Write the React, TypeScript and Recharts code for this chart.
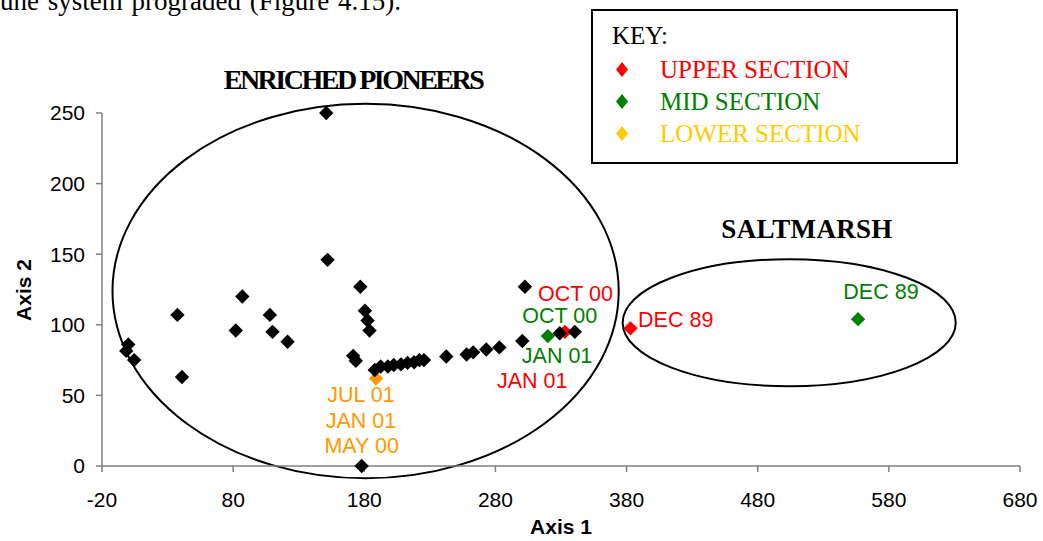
import React from 'react';
import {
  ScatterChart,
  Scatter,
  XAxis,
  YAxis,
  ReferenceArea
} from 'recharts';

// sample scores on the two ordination axes
const otherSamples = [
  { x: 151, y: 250 }, { x: 152, y: 146 }, { x: 177, y: 127 }, { x: 180.5, y: 110 },
  { x: 182.5, y: 103 }, { x: 184, y: 96 }, { x: 87, y: 120 }, { x: 37.5, y: 107 },
  { x: 108, y: 107 }, { x: 82, y: 96 }, { x: 110, y: 95 }, { x: 121.5, y: 88 },
  { x: 0, y: 86 }, { x: -1.5, y: 81.5 }, { x: 4.5, y: 75 }, { x: 41, y: 63 },
  { x: 171.5, y: 78 }, { x: 173.5, y: 74.5 }, { x: 178, y: 0 },
  { x: 188, y: 68 }, { x: 192.5, y: 70.5 }, { x: 198, y: 70.5 }, { x: 202.5, y: 71.5 },
  { x: 208, y: 72 }, { x: 213, y: 73 }, { x: 218, y: 73.5 }, { x: 222, y: 75 },
  { x: 225.5, y: 75 }, { x: 242.5, y: 77.5 }, { x: 258, y: 79 }, { x: 263, y: 80.5 },
  { x: 273, y: 82.5 }, { x: 283, y: 84 }, { x: 300.5, y: 88.5 }, { x: 302.5, y: 127 },
  { x: 329, y: 94 }, { x: 340.5, y: 95 }
];
const upperSection = [{ x: 333, y: 95 }, { x: 383, y: 97.5 }];
const midSection = [{ x: 320, y: 92 }, { x: 556.5, y: 104 }];
const lowerSection = [{ x: 189, y: 62 }];

const dateLabels = [
  { x: 177.5, y: 50, text: 'JUL 01', color: '#ff9900' },
  { x: 177.5, y: 32, text: 'JAN 01', color: '#ff9900' },
  { x: 178, y: 14, text: 'MAY 00', color: '#ff9900' },
  { x: 341, y: 121.5, text: 'OCT 00', color: '#ff0000' },
  { x: 329, y: 106.5, text: 'OCT 00', color: '#008000' },
  { x: 327, y: 78, text: 'JAN 01', color: '#008000' },
  { x: 308, y: 60.5, text: 'JAN 01', color: '#ff0000' },
  { x: 417.5, y: 103.5, text: 'DEC 89', color: '#ff0000' },
  { x: 574, y: 123.5, text: 'DEC 89', color: '#008000' }
];

// ellipse bounds: [x1, x2, y1, y2]
const pioneersBounds = [-12, 374, -8.7, 256.5];
const saltmarshBounds = [377, 631, 56.5, 146.5];

const xTicks = [-20, 80, 180, 280, 380, 480, 580, 680];
const yTicks = [0, 50, 100, 150, 200, 250];

const SANS = '"Liberation Sans", Arial, sans-serif';
const SERIF = '"Liberation Serif", "Times New Roman", serif';

const diamond = (color: string) => (props: any) => {
  const { cx, cy } = props;
  const r = 7.2;
  return <path d={`M${cx},${cy - r}L${cx + r},${cy}L${cx},${cy + r}L${cx - r},${cy}Z`} fill={color} />;
};

const labelShape = (props: any) => (
  <text
    x={props.cx}
    y={props.cy}
    textAnchor="middle"
    dominantBaseline="central"
    fontFamily={SANS}
    fontSize={21.5}
    fill={props.payload.color}
  >
    {props.payload.text}
  </text>
);

const ellipseShape = (props: any) => {
  const { x, y, width, height } = props;
  return (
    <ellipse
      cx={x + width / 2}
      cy={y + height / 2}
      rx={width / 2}
      ry={height / 2}
      fill="none"
      stroke="#000"
      strokeWidth={2}
    />
  );
};

const keyRows = [
  { text: 'UPPER SECTION', color: '#ff0000' },
  { text: 'MID SECTION', color: '#008000' },
  { text: 'LOWER SECTION', color: '#ffcc00' }
];

export default function App() {
  const tick = { fontSize: 21, fill: '#000', fontFamily: SANS };
  return (
    <div style={{ position: 'absolute', left: 0, top: 0, width: 1043, height: 541, background: '#fff' }}>
      <ScatterChart width={1043} height={541} margin={{ top: 113, right: 23, bottom: 30, left: 42 }}>
        <XAxis
          type="number"
          dataKey="x"
          domain={[-20, 680]}
          ticks={xTicks}
          interval={0}
          height={45}
          tick={tick}
          tickSize={6}
          tickMargin={20}
          stroke="#7f7f7f"
          strokeWidth={1.5}
        />
        <YAxis
          type="number"
          dataKey="y"
          domain={[0, 250]}
          ticks={yTicks}
          interval={0}
          width={60}
          tick={tick}
          tickSize={6}
          tickMargin={11}
          stroke="#7f7f7f"
          strokeWidth={1.5}
        />
        <ReferenceArea
          x1={pioneersBounds[0]}
          x2={pioneersBounds[1]}
          y1={pioneersBounds[2]}
          y2={pioneersBounds[3]}
          ifOverflow="visible"
          shape={ellipseShape}
        />
        <ReferenceArea
          x1={saltmarshBounds[0]}
          x2={saltmarshBounds[1]}
          y1={saltmarshBounds[2]}
          y2={saltmarshBounds[3]}
          ifOverflow="visible"
          shape={ellipseShape}
        />
        <Scatter data={lowerSection} shape={diamond('#ff9900')} isAnimationActive={false} />
        <Scatter data={upperSection} shape={diamond('#ff0000')} isAnimationActive={false} />
        <Scatter data={midSection} shape={diamond('#008000')} isAnimationActive={false} />
        <Scatter data={otherSamples} shape={diamond('#000')} isAnimationActive={false} />
        <Scatter data={dateLabels} shape={labelShape} isAnimationActive={false} />
      </ScatterChart>

      <svg width={1043} height={541} style={{ position: 'absolute', left: 0, top: 0, pointerEvents: 'none' }}>
        {/* page text above the figure, clipped at the top like the scan */}
        <text x={-13.5} y={9.5} fontFamily={SERIF} fontSize={27} wordSpacing={2} fill="#000">
          dune system prograded (Figure 4.15).
        </text>
        <text x={353} y={89} textAnchor="middle" fontFamily={SERIF} fontWeight="bold" fontSize={28} letterSpacing={-2.5} fill="#000">
          ENRICHED PIONEERS
        </text>
        <text x={807} y={238} textAnchor="middle" fontFamily={SERIF} fontWeight="bold" fontSize={27} letterSpacing={0.3} fill="#000">
          SALTMARSH
        </text>

        <rect x={592} y={10} width={365} height={153} fill="#fff" stroke="#000" strokeWidth={2} />
        <text x={612} y={44} fontFamily={SERIF} fontSize={25} fill="#000">KEY:</text>
        {keyRows.map((row, i) => {
          const cy = 69.5 + i * 32;
          return (
            <g key={row.text}>
              <path d={`M622,${cy - 7.5}L628,${cy}L622,${cy + 7.5}L616,${cy}Z`} fill={row.color} />
              <text x={660} y={cy + 8} fontFamily={SERIF} fontSize={25} fill={row.color}>{row.text}</text>
            </g>
          );
        })}

        <text x={561} y={534} textAnchor="middle" fontFamily={SANS} fontWeight="bold" fontSize={21} fill="#000">
          Axis 1
        </text>
        <text
          x={0}
          y={0}
          transform="translate(31,290) rotate(-90)"
          textAnchor="middle"
          fontFamily={SANS}
          fontWeight="bold"
          fontSize={21}
          fill="#000"
        >
          Axis 2
        </text>
      </svg>
    </div>
  );
}
